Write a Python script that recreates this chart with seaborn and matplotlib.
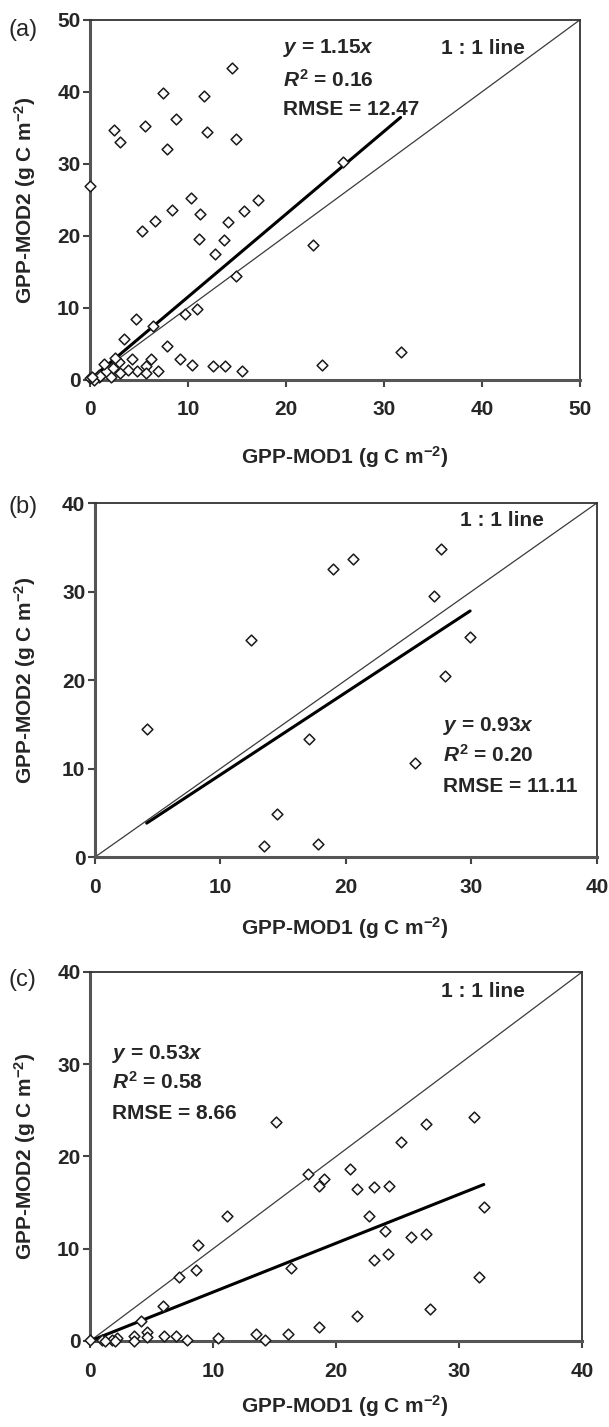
import numpy as np
import pandas as pd
import matplotlib
matplotlib.use('Agg')
import matplotlib.pyplot as plt
import seaborn as sns

# panel (a) GPP-MOD1 vs GPP-MOD2
a_x = [14.5, 7.45, 11.6, 8.76, 2.43, 3.06, 5.59, 7.8, 11.9, 14.9, 25.8, 0.0, 10.3, 17.1,
       15.75, 8.33, 11.25, 6.6, 14.06, 5.34, 11.15, 13.7, 12.8, 22.75, 14.9, 10.9, 9.7,
       4.7, 6.47, 3.45, 7.88, 31.7, 9.2, 10.4, 12.55, 13.75, 15.5, 23.7, 6.2, 4.3, 2.9,
       1.4, 2.36, 5.7, 6.9, 4.8, 3.9, 3.06, 2.1, 0.95, 0.0, 0.4, 5.7, 2.5, 0.95, 1.0, 0.2]
a_y = [43.3, 39.9, 39.4, 36.3, 34.7, 33.1, 35.3, 32.1, 34.4, 33.4, 30.3, 26.9, 25.3, 24.9,
       23.4, 23.6, 23.0, 22.1, 21.9, 20.6, 19.6, 19.4, 17.5, 18.7, 14.35, 9.86, 9.1,
       8.4, 7.4, 5.6, 4.6, 3.9, 2.8, 2.0, 1.85, 1.9, 1.16, 2.0, 2.8, 2.8, 2.5,
       2.2, 1.6, 1.9, 1.16, 1.16, 1.4, 0.93, 0.37, 0.37, 0.2, 0.0, 0.9, 3.0, 0.7, 0.5, 0.3]

# panel (b)
b_x = [4.12, 12.4, 18.98, 20.56, 27.6, 27.0, 29.9, 27.9, 17.05, 25.5, 14.5, 13.5, 17.8]
b_y = [14.5, 24.56, 32.5, 33.7, 34.8, 29.5, 24.9, 20.5, 13.3, 10.6, 4.9, 1.3, 1.5]

# panel (c)
c_x = [15.1, 31.2, 27.3, 25.3, 17.75, 21.1, 19.0, 18.6, 21.7, 23.1, 24.3, 32.0, 11.1, 22.7,
       24.0, 26.1, 27.3, 8.8, 8.64, 7.2, 16.3, 23.1, 24.2, 31.6, 5.9, 27.6, 21.7, 18.6,
       16.1, 13.5, 14.2, 10.4, 7.9, 7.0, 6.0, 4.6, 4.6, 3.6, 3.6, 4.1, 2.15, 1.8, 2.0,
       0.95, 0.0, 1.2]
c_y = [23.7, 24.3, 23.5, 21.6, 18.05, 18.6, 17.6, 16.8, 16.5, 16.7, 16.8, 14.5, 13.5, 13.5,
       11.9, 11.3, 11.55, 10.4, 7.7, 6.9, 7.9, 8.8, 9.46, 6.9, 3.8, 3.5, 2.7, 1.5,
       0.8, 0.7, 0.07, 0.36, 0.07, 0.54, 0.54, 0.94, 0.43, 0.5, 0.0, 2.2, 0.36, 0.07, 0.0,
       0.15, 0.07, 0.0]

slopes = [1.15, 0.93, 0.53]
r2 = ['0.16', '0.20', '0.58']
rmse = ['12.47', '11.11', '8.66']
axmax = [50, 40, 40]
letters = ['(a)', '(b)', '(c)']

sns.set_style('ticks')
plt.rcParams['font.family'] = ['Liberation Sans', 'DejaVu Sans']
plt.rcParams['font.weight'] = 'bold'
plt.rcParams['mathtext.fontset'] = 'custom'
plt.rcParams['mathtext.rm'] = 'Liberation Sans:bold'
plt.rcParams['mathtext.bf'] = 'Liberation Sans:bold'
plt.rcParams['mathtext.it'] = 'Liberation Sans:italic:bold'

fig = plt.figure(figsize=(6.09, 14.27), dpi=100)

# axes boxes [left, bottom, width, height] in figure fraction
boxes = [[0.148, 0.734, 0.804, 0.252],
         [0.156, 0.3994, 0.824, 0.2481],
         [0.148, 0.0603, 0.808, 0.2586]]
letter_y = [0.979, 0.6447, 0.3133]
ylab_x = [-0.106, -0.114, -0.106]
xlab = [(0.52, -0.18), (0.498, -0.164), (0.518, -0.141)]

# text positions (data units)
eq_pos = [(19.7, [46.1, 41.7, 37.6]), (27.75, [14.8, 11.5, 8.0]), (1.8, [31.1, 28.05, 24.7])]
one_pos = [(35.8, 46.1), (29.1, 38.0), (28.5, 37.9)]

data = [(a_x, a_y), (b_x, b_y), (c_x, c_y)]

for i, (xs, ys) in enumerate(data):
    ax = fig.add_axes(boxes[i])
    df = pd.DataFrame({'x': xs, 'y': ys})
    m = axmax[i]

    # 1:1 line
    one = pd.DataFrame({'x': [0, m], 'y': [0, m]})
    sns.lineplot(data=one, x='x', y='y', ax=ax, color='#3a3a3a', linewidth=0.9, zorder=2)

    # regression line through origin
    xr = np.array([df.x.min(), df.x.max()])
    reg = pd.DataFrame({'x': xr, 'y': slopes[i] * xr})
    sns.lineplot(data=reg, x='x', y='y', ax=ax, color='black', linewidth=2.2, zorder=3)

    sns.scatterplot(data=df, x='x', y='y', ax=ax, marker='D', s=30, facecolor='white',
                    edgecolor='#1a1a1a', linewidth=1.1, zorder=4, clip_on=False)

    ax.set_xlim(0, m)
    ax.set_ylim(0, m)
    ax.set_xticks(np.arange(0, m + 1, 10))
    ax.set_yticks(np.arange(0, m + 1, 10))
    ax.tick_params(axis='both', labelsize=15, direction='out', length=5, width=1.5,
                   color='#444444')
    ax.tick_params(axis='x', pad=10)
    ax.tick_params(axis='y', pad=2)
    for lab in ax.get_xticklabels() + ax.get_yticklabels():
        lab.set_fontweight('bold')

    for s in ['left', 'bottom']:
        ax.spines[s].set_linewidth(2.2)
        ax.spines[s].set_color('#555555')
    for s in ['top', 'right']:
        ax.spines[s].set_linewidth(1.3)
        ax.spines[s].set_color('#333333')

    ax.set_xlabel(r'GPP-MOD1 (g C m$^{\mathrm{-2}}$)', fontsize=15, fontweight='bold')
    ax.set_ylabel(r'GPP-MOD2 (g C m$^{\mathrm{-2}}$)', fontsize=15, fontweight='bold')
    ax.xaxis.set_label_coords(*xlab[i])
    ax.yaxis.set_label_coords(ylab_x[i], 0.5)

    tx, tys = eq_pos[i]
    ax.text(tx, tys[0], r'$y$ = %.2f$x$' % slopes[i], fontsize=15, fontweight='bold',
            va='center', ha='left')
    ax.text(tx, tys[1], r'$R^{\mathrm{2}}$ = ' + r2[i], fontsize=15, fontweight='bold',
            va='center', ha='left')
    ax.text(tx, tys[2], 'RMSE = ' + rmse[i], fontsize=15, fontweight='bold',
            va='center', ha='left')
    ax.text(one_pos[i][0], one_pos[i][1], '1 : 1 line', fontsize=15, fontweight='bold',
            va='center', ha='left')

    fig.text(0.014, letter_y[i], letters[i], fontsize=17, fontweight='normal',
             va='center', ha='left')

fig.savefig('out.png', dpi=100)
